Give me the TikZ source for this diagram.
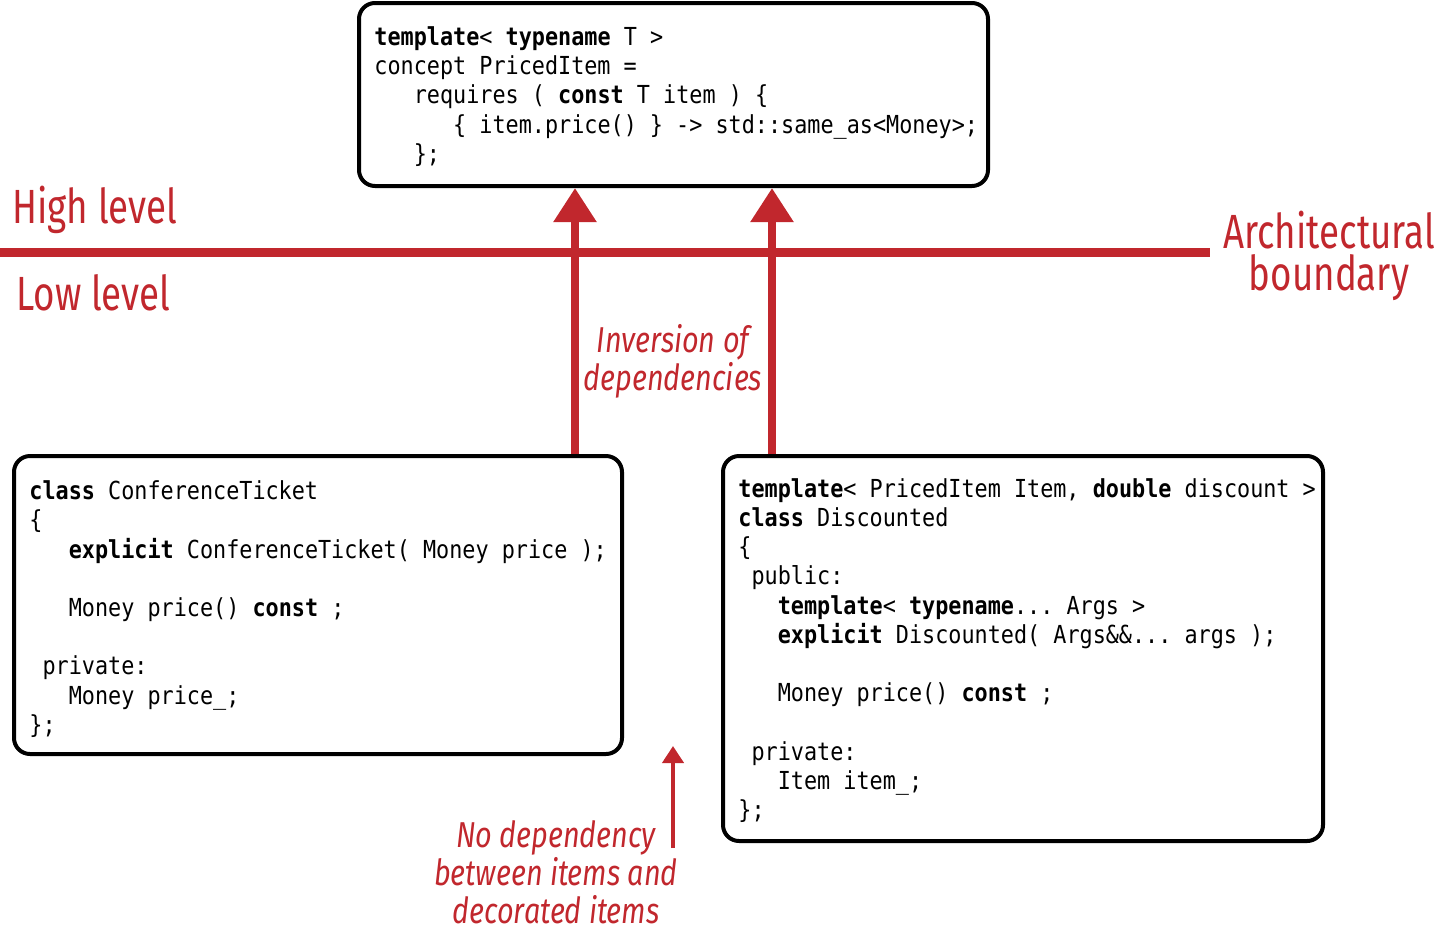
\documentclass[tikz,border=0pt]{standalone}
\usepackage{fontspec}
\setmonofont[FakeStretch=0.879]{DejaVu Sans Mono}
\newfontfamily\labelfont[FakeStretch=0.765]{Fira Sans}
\newfontfamily\notefont[FakeStretch=0.80]{Fira Sans}
\usetikzlibrary{arrows.meta,fit}
\definecolor{lred}{RGB}{193,39,45}
\tikzset{
  codebox/.style={draw=black, line width=2pt, rounded corners=8pt, inner sep=0pt},
  code/.style={inner sep=0pt, align=left, font=\ttfamily\fontsize{12.4}{14.6}\selectfont, anchor=west},
  lbl/.style={text=lred, inner sep=0pt, font=\labelfont\fontsize{24}{21}\selectfont},
  note/.style={text=lred, inner sep=0pt, align=center, font=\notefont\itshape\fontsize{18}{19}\selectfont},
  bigarrow/.style={draw=lred, line width=4.3pt, -{Triangle[width=20.5pt,length=17pt]}},
  smallarrow/.style={draw=lred, line width=2pt, -{Triangle[width=10.5pt,length=8.5pt]}},
  boundary/.style={draw=lred, line width=4.5pt}
}
\begin{document}
\begin{tikzpicture}[x=0.5pt,y=-0.5pt]
\useasboundingbox (0,0) rectangle (1439,932);
% boxes
\node[codebox, fit={(359,3) (988,186)}] (top) {};
\node[codebox, fit={(14,456) (622,754)}] (left) {};
\node[codebox, fit={(723,456) (1323,841)}] (right) {};
% code
\node[code] (topcode) at ([xshift=8.5pt,yshift=-1pt]top.west) {%
\textbf{template}< \textbf{typename} T >\\
concept PricedItem =\\
\phantom{xxx}requires ( \textbf{const} T item ) \{\\
\phantom{xxxxxx}\{ item.price() \} -> std::same\_as<Money>;\\
\phantom{xxx}\};};
\node[code] (leftcode) at ([xshift=8.5pt,yshift=-2pt]left.west) {%
\textbf{class} ConferenceTicket\\
\{\\
\phantom{xxx}\textbf{explicit} ConferenceTicket( Money price );\\
\mbox{}\\
\phantom{xxx}Money price() \textbf{const} ;\\
\mbox{}\\
\phantom{x}private:\\
\phantom{xxx}Money price\_;\\
\};};
\node[code] (rightcode) at ([xshift=8.5pt,yshift=-1pt]right.west) {%
\textbf{template}< PricedItem Item, \textbf{double} discount >\\
\textbf{class} Discounted\\
\{\\
\phantom{x}public:\\
\phantom{xxx}\textbf{template}< \textbf{typename}... Args >\\
\phantom{xxx}\textbf{explicit} Discounted( Args\&\&... args );\\
\mbox{}\\
\phantom{xxx}Money price() \textbf{const} ;\\
\mbox{}\\
\phantom{x}private:\\
\phantom{xxx}Item item\_;\\
\};};
% boundary
\coordinate (b0) at (0,252);
\coordinate (b1) at (1210,252);
\draw[boundary] (b0) -- (b1);
% labels
\node[lbl, anchor=base west] (high) at (12,223) {High level};
\node[lbl, anchor=base west] (low) at (16,310) {Low level};
\node[lbl, anchor=base] (arch) at (1329,248) {Architectural};
\node[lbl, anchor=base] (arch2) at (1329,290) {boundary};
\node[note] (inv) at (673,361) {Inversion of\\dependencies};
\node[note] (nodep) at (556,872) {No dependency\\between items and\\decorated items};
% arrows
\coordinate (a1) at (575,0);
\coordinate (a2) at (772,0);
\draw[bigarrow] (left.north -| a1) -- (top.south -| a1);
\draw[bigarrow] (right.north -| a2) -- (top.south -| a2);
\coordinate (s1) at (673,848);
\coordinate (s2) at (673,746);
\draw[smallarrow] (s1) -- (s2);
\end{tikzpicture}
\end{document}
